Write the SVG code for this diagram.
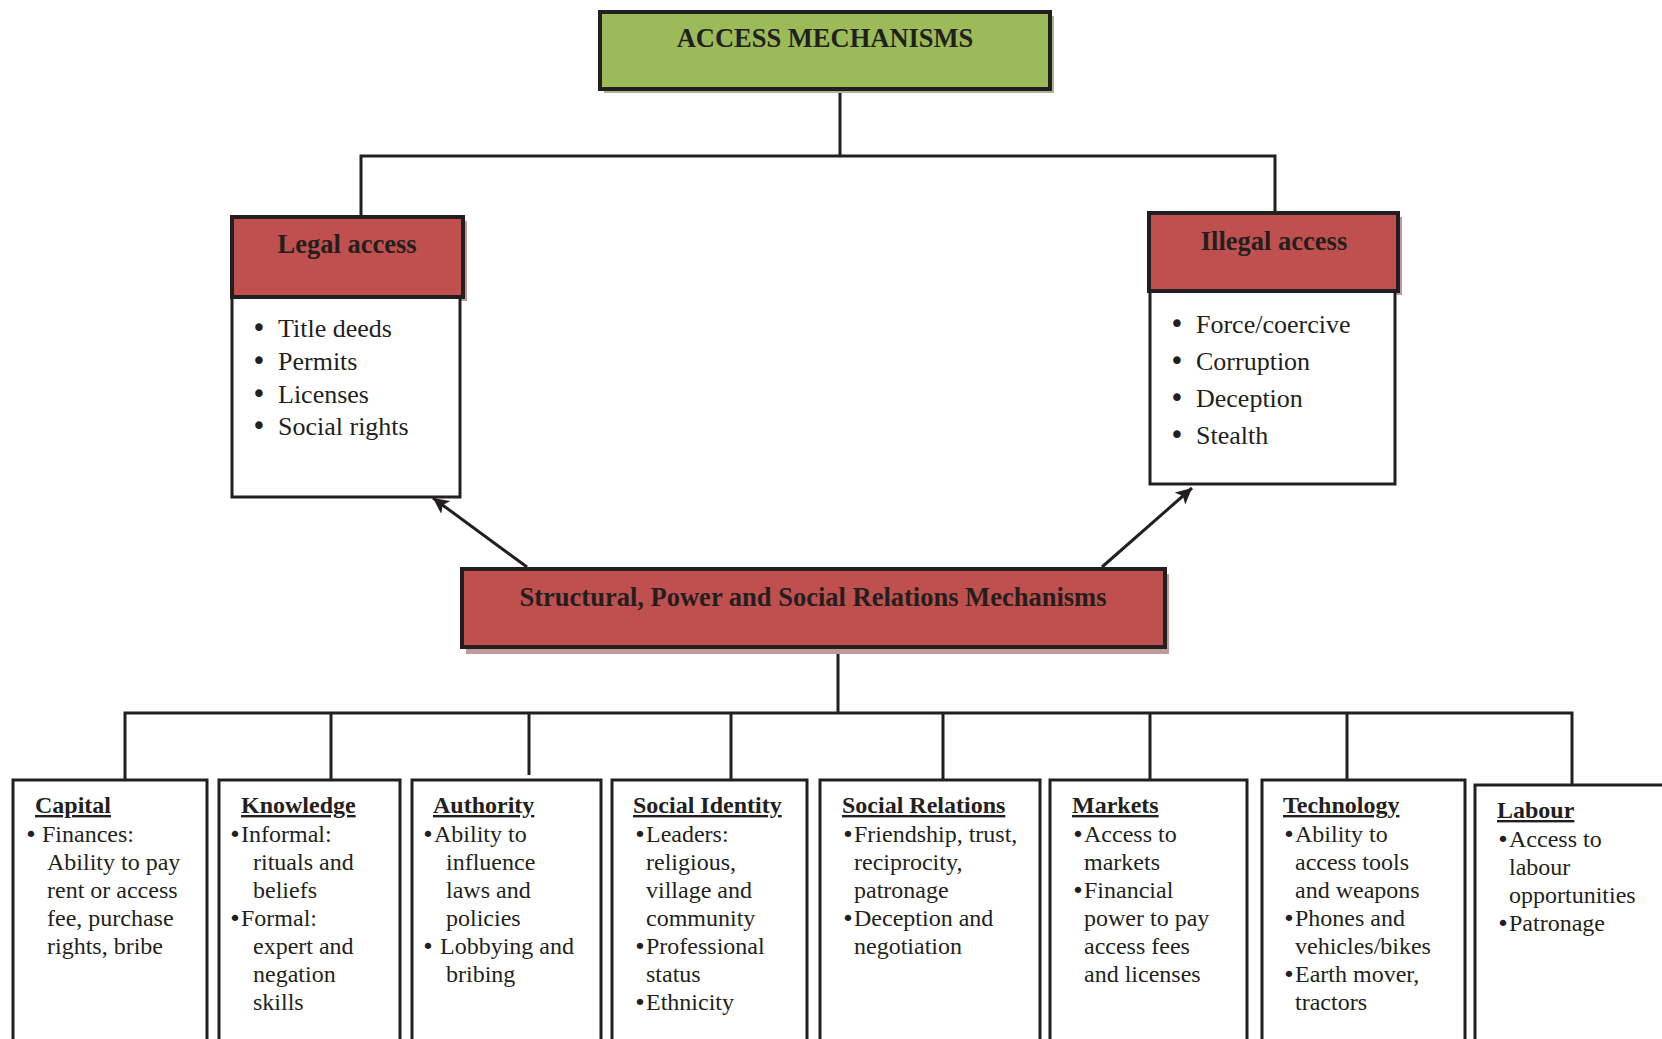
<svg xmlns="http://www.w3.org/2000/svg" width="1662" height="1039" viewBox="0 0 1662 1039">
  <style>
    text { font-family: "Liberation Serif", "Times New Roman", serif; fill: #231f20; }
    .head { font-size: 26.5px; font-weight: bold; text-anchor: middle; }
    .item { font-size: 26px; }
    .title { font-size: 24px; font-weight: bold; text-decoration: underline; }
    .body { font-size: 24px; }
    text.dot-l { font-family: "DejaVu Sans", sans-serif; font-size: 26px; text-anchor: middle; }
    text.dot-s { font-family: "DejaVu Sans", sans-serif; font-size: 22px; text-anchor: middle; }
    .box { fill: #ffffff; stroke: #231f20; stroke-width: 3; }
    .green { fill: #9bbb59; stroke: #231f20; stroke-width: 4; }
    .red { fill: #c0504d; stroke: #231f20; stroke-width: 4; }
    .shadow-g { fill: #aab596; }
    .shadow-r { fill: #c09a9a; }
    .wire { fill: none; stroke: #231f20; stroke-width: 3; }
  </style>
  <defs>
    <marker id="arrow" markerUnits="userSpaceOnUse" markerWidth="18" markerHeight="16" refX="16" refY="8" orient="auto">
      <path d="M0,0 L16,8 L0,16 L4,8 z" fill="#231f20"/>
    </marker>
  </defs>

  <rect width="1662" height="1039" fill="#ffffff"/>

  <!-- connectors -->
  <g id="connectors">
    <polyline class="wire" points="840,90 840,156"/>
    <polyline class="wire" points="361,217 361,156 1275,156 1275,213"/>
    <line class="wire" x1="527" y1="567" x2="433" y2="498" marker-end="url(#arrow)"/>
    <line class="wire" x1="1102" y1="567" x2="1192" y2="488" marker-end="url(#arrow)"/>
    <polyline class="wire" points="838,647 838,713"/>
    <polyline class="wire" points="125,780 125,713 1572,713 1572,785"/>
    <line class="wire" x1="331" y1="713" x2="331" y2="780"/>
    <line class="wire" x1="529" y1="713" x2="529" y2="775"/>
    <line class="wire" x1="731" y1="713" x2="731" y2="780"/>
    <line class="wire" x1="943" y1="713" x2="943" y2="780"/>
    <line class="wire" x1="1150" y1="713" x2="1150" y2="783"/>
    <line class="wire" x1="1347" y1="713" x2="1347" y2="780"/>
  </g>

  <!-- top node -->
  <g id="access-mechanisms">
    <rect class="shadow-g" x="604" y="16" width="450" height="77"/>
    <rect class="green" x="600" y="12" width="450" height="77"/>
    <text class="head" x="825" y="47">ACCESS MECHANISMS</text>
  </g>

  <!-- legal access -->
  <g id="legal-access">
    <rect class="shadow-r" x="236" y="221" width="231" height="80"/>
    <rect class="box" x="232" y="297" width="228" height="200"/>
    <rect class="red" x="232" y="217" width="231" height="80"/>
    <text class="head" x="347" y="253">Legal access</text>
    <g class="item">
      <text class="dot-l" x="259" y="337">•</text><text x="278" y="337">Title deeds</text>
      <text class="dot-l" x="259" y="370">•</text><text x="278" y="370">Permits</text>
      <text class="dot-l" x="259" y="403">•</text><text x="278" y="403">Licenses</text>
      <text class="dot-l" x="259" y="435">•</text><text x="278" y="435">Social rights</text>
    </g>
  </g>

  <!-- illegal access -->
  <g id="illegal-access">
    <rect class="shadow-r" x="1153" y="217" width="249" height="78"/>
    <rect class="box" x="1150" y="291" width="245" height="193"/>
    <rect class="red" x="1149" y="213" width="249" height="78"/>
    <text class="head" x="1274" y="250">Illegal access</text>
    <g class="item">
      <text class="dot-l" x="1177" y="333">•</text><text x="1196" y="333">Force/coercive</text>
      <text class="dot-l" x="1177" y="370">•</text><text x="1196" y="370">Corruption</text>
      <text class="dot-l" x="1177" y="407">•</text><text x="1196" y="407">Deception</text>
      <text class="dot-l" x="1177" y="444">•</text><text x="1196" y="444">Stealth</text>
    </g>
  </g>

  <!-- structural mechanisms -->
  <g id="structural">
    <rect class="shadow-r" x="466" y="574" width="703" height="80"/>
    <rect class="red" x="462" y="569" width="703" height="78"/>
    <text class="head" x="813" y="606">Structural, Power and Social Relations Mechanisms</text>
  </g>

  <!-- bottom row -->
  <g id="capital">
    <rect class="box" x="13" y="780" width="194" height="270"/>
    <text class="title" x="35" y="813">Capital</text>
    <g class="body">
      <text class="dot-s" x="31" y="842">•</text><text x="42" y="842">Finances:</text>
      <text x="47" y="870">Ability to pay</text>
      <text x="47" y="898">rent or access</text>
      <text x="47" y="926">fee, purchase</text>
      <text x="47" y="954">rights, bribe</text>
    </g>
  </g>

  <g id="knowledge">
    <rect class="box" x="219" y="780" width="181" height="270"/>
    <text class="title" x="241" y="813">Knowledge</text>
    <g class="body">
      <text class="dot-s" x="235" y="842">•</text><text x="241" y="842">Informal:</text>
      <text x="253" y="870">rituals and</text>
      <text x="253" y="898">beliefs</text>
      <text class="dot-s" x="235" y="926">•</text><text x="241" y="926">Formal:</text>
      <text x="253" y="954">expert and</text>
      <text x="253" y="982">negation</text>
      <text x="253" y="1010">skills</text>
    </g>
  </g>

  <g id="authority">
    <rect class="box" x="412" y="780" width="189" height="270"/>
    <text class="title" x="433" y="813">Authority</text>
    <g class="body">
      <text class="dot-s" x="428" y="842">•</text><text x="434" y="842">Ability to</text>
      <text x="446" y="870">influence</text>
      <text x="446" y="898">laws and</text>
      <text x="446" y="926">policies</text>
      <text class="dot-s" x="428" y="954">•</text><text x="440" y="954">Lobbying and</text>
      <text x="446" y="982">bribing</text>
    </g>
  </g>

  <g id="social-identity">
    <rect class="box" x="612" y="780" width="195" height="270"/>
    <text class="title" x="633" y="813">Social Identity</text>
    <g class="body">
      <text class="dot-s" x="640" y="842">•</text><text x="646" y="842">Leaders:</text>
      <text x="646" y="870">religious,</text>
      <text x="646" y="898">village and</text>
      <text x="646" y="926">community</text>
      <text class="dot-s" x="640" y="954">•</text><text x="646" y="954">Professional</text>
      <text x="646" y="982">status</text>
      <text class="dot-s" x="640" y="1010">•</text><text x="646" y="1010">Ethnicity</text>
    </g>
  </g>

  <g id="social-relations">
    <rect class="box" x="820" y="780" width="220" height="270"/>
    <text class="title" x="842" y="813">Social Relations</text>
    <g class="body">
      <text class="dot-s" x="848" y="842">•</text><text x="854" y="842">Friendship, trust,</text>
      <text x="854" y="870">reciprocity,</text>
      <text x="854" y="898">patronage</text>
      <text class="dot-s" x="848" y="926">•</text><text x="854" y="926">Deception and</text>
      <text x="854" y="954">negotiation</text>
    </g>
  </g>

  <g id="markets">
    <rect class="box" x="1050" y="780" width="197" height="270"/>
    <text class="title" x="1072" y="813">Markets</text>
    <g class="body">
      <text class="dot-s" x="1078" y="842">•</text><text x="1084" y="842">Access to</text>
      <text x="1084" y="870">markets</text>
      <text class="dot-s" x="1078" y="898">•</text><text x="1084" y="898">Financial</text>
      <text x="1084" y="926">power to pay</text>
      <text x="1084" y="954">access fees</text>
      <text x="1084" y="982">and licenses</text>
    </g>
  </g>

  <g id="technology">
    <rect class="box" x="1262" y="780" width="203" height="270"/>
    <text class="title" x="1283" y="813">Technology</text>
    <g class="body">
      <text class="dot-s" x="1289" y="842">•</text><text x="1295" y="842">Ability to</text>
      <text x="1295" y="870">access tools</text>
      <text x="1295" y="898">and weapons</text>
      <text class="dot-s" x="1289" y="926">•</text><text x="1295" y="926">Phones and</text>
      <text x="1295" y="954">vehicles/bikes</text>
      <text class="dot-s" x="1289" y="982">•</text><text x="1295" y="982">Earth mover,</text>
      <text x="1295" y="1010">tractors</text>
    </g>
  </g>

  <g id="labour">
    <rect class="box" x="1475" y="785" width="200" height="270"/>
    <text class="title" x="1497" y="818">Labour</text>
    <g class="body">
      <text class="dot-s" x="1503" y="847">•</text><text x="1509" y="847">Access to</text>
      <text x="1509" y="875">labour</text>
      <text x="1509" y="903">opportunities</text>
      <text class="dot-s" x="1503" y="931">•</text><text x="1509" y="931">Patronage</text>
    </g>
  </g>
</svg>
